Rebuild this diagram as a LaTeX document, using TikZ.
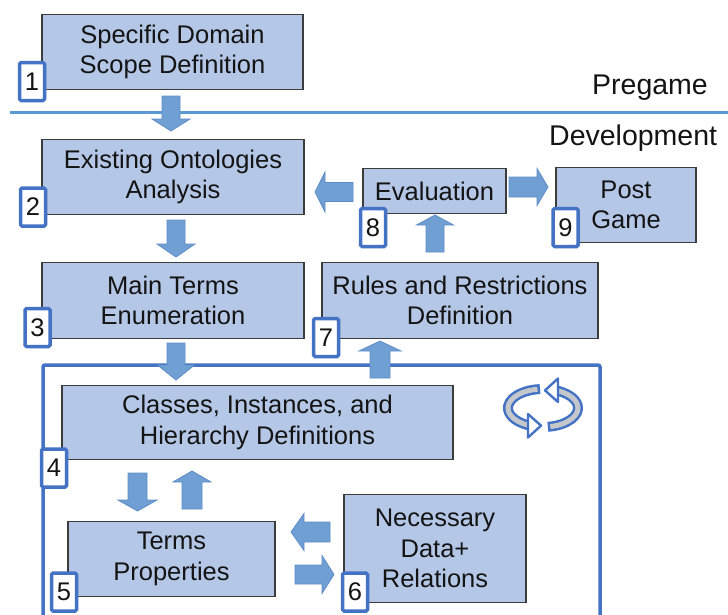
\documentclass[tikz,border=0pt]{standalone}
\usepackage{fontspec}
\setmainfont{Liberation Sans}
\usetikzlibrary{shadows}

\definecolor{boxfill}{HTML}{B4C7E7}
\definecolor{boxline}{HTML}{3C3C3C}
\definecolor{badgeline}{HTML}{4472C4}
\definecolor{arrowfill}{HTML}{709FD3}
\definecolor{arrowline}{HTML}{5E8DC6}
\definecolor{sepblue}{HTML}{5B9BD5}
\definecolor{loopblue}{HTML}{4472C4}
\definecolor{bandgray}{HTML}{C4C7CC}
\definecolor{textdark}{HTML}{141414}

\newcommand{\boxfs}{\fontsize{25.5}{30.5}\selectfont}
\newcommand{\labelfs}{\fontsize{28.5}{33}\selectfont}

% block arrow: tail point, direction angle, length, head length, shaft half-width, head half-width
\newcommand{\blockarrow}[6]{%
  \begin{scope}[shift={(#1)}, rotate=#2]
    \filldraw[barrow] (0,-#5) -- (#3-#4,-#5) -- (#3-#4,-#6) -- (#3,0)
      -- (#3-#4,#6) -- (#3-#4,#5) -- (0,#5) -- cycle;
  \end{scope}}

\tikzset{
  stepbox/.style={draw=boxline, fill=boxfill, line width=1.3pt, inner sep=0pt,
    align=center, font=\boxfs, text=textdark},
  badge/.style={draw=badgeline, fill=white, line width=3.5pt, rounded corners=1.5pt,
    minimum width=25pt, minimum height=38pt, inner sep=0pt, font=\boxfs, text=textdark,
    drop shadow={shadow xshift=1.5pt, shadow yshift=-1.5pt, opacity=0.35}},
  barrow/.style={fill=arrowfill, draw=arrowline, line width=0.8pt, line join=miter},
  phase/.style={font=\labelfs, text=textdark, inner sep=0pt, anchor=base west},
  band/.style={loopblue, line width=10pt},
  bandcore/.style={bandgray, line width=5pt},
  bandtip/.style={fill=white, draw=loopblue, line width=2.4pt, line join=round},
}

\begin{document}
\begin{tikzpicture}[x=1pt, y=-1pt]
\useasboundingbox (0,0) rectangle (728,614);
\clip (0,0) rectangle (728,614);

% phase separator
\draw[sepblue, line width=3pt] (10,112) -- (728,112);
\node[phase] (pregame) at (592,94) {Pregame};
\node[phase] (devel) at (549,145) {Development};

% iteration frame
\draw[loopblue, line width=3.5pt, rounded corners=2pt] (43,640) -- (43,365) -- (600,365) -- (600,640);

% process steps
\node[stepbox, minimum width=261pt, minimum height=75pt] (s1) at (172.5,52) {Specific Domain\\Scope Definition};
\node[stepbox, minimum width=262pt, minimum height=75pt] (s2) at (173,177) {Existing Ontologies\\Analysis};
\node[stepbox, minimum width=262pt, minimum height=76pt] (s3) at (173,300.5) {Main Terms\\Enumeration};
\node[stepbox, minimum width=391pt, minimum height=74pt] (s4) at (257.5,422.5) {Classes, Instances, and\\Hierarchy Definitions};
\node[stepbox, minimum width=207pt, minimum height=75pt] (s5) at (171.5,559) {Terms\\Properties};
\node[stepbox, minimum width=182pt, minimum height=108pt] (s6) at (435,548.5) {Necessary\\Data+\\Relations};
\node[stepbox, minimum width=276pt, minimum height=76pt] (s7) at (460,300.5) {Rules and Restrictions\\Definition};
\node[stepbox, minimum width=143pt, minimum height=45pt] (s8) at (434.5,191) {Evaluation};
\node[stepbox, minimum width=140pt, minimum height=75pt] (s9) at (626,205) {Post\\Game};

% block arrows between steps
\blockarrow{171,96}{-90}{35}{12}{9}{19}
\blockarrow{176,220}{-90}{37}{13}{9}{19}
\blockarrow{176,343}{-90}{37}{15}{9}{18.5}
\blockarrow{380,378}{90}{37}{10}{10}{21}
\blockarrow{435,252}{90}{37}{10}{9}{18.5}
\blockarrow{353,192}{180}{38}{10}{9.5}{20}
\blockarrow{509,187}{0}{39}{11}{10}{18.5}
\blockarrow{137.5,473}{-90}{38}{11}{9.5}{19.5}
\blockarrow{192,509}{90}{38}{11}{10}{19}
\blockarrow{330,532}{180}{39}{13}{10}{18.5}
\blockarrow{295,574.5}{0}{39}{12}{9.5}{19}

% cycle icon: two curved arrows around an ellipse
\coordinate (cyc) at (543,408);
\draw[band]
  (cyc) ++(265:35 and 19) arc[start angle=265, end angle=110, x radius=35, y radius=19];
\draw[bandcore]
  (cyc) ++(261:35 and 19) arc[start angle=261, end angle=112, x radius=35, y radius=19];
\filldraw[bandtip] (528,414) -- (541,425.6) -- (528,437.5) -- cycle;
\draw[band]
  (cyc) ++(82:35 and 19) arc[start angle=82, end angle=-70, x radius=35, y radius=19];
\draw[bandcore]
  (cyc) ++(78:35 and 19) arc[start angle=78, end angle=-68, x radius=35, y radius=19];
\filldraw[bandtip] (558,378.5) -- (545,390.4) -- (558,402) -- cycle;

% step numbers
\node[badge] (n1) at (32,81.5) {1};
\node[badge] (n2) at (33,207) {2};
\node[badge] (n3) at (37.5,327.5) {3};
\node[badge] (n4) at (54,468) {4};
\node[badge] (n5) at (64,592) {5};
\node[badge] (n6) at (355,592) {6};
\node[badge] (n7) at (326,337.5) {7};
\node[badge] (n8) at (373,227.5) {8};
\node[badge] (n9) at (565.5,227.5) {9};
\end{tikzpicture}
\end{document}
